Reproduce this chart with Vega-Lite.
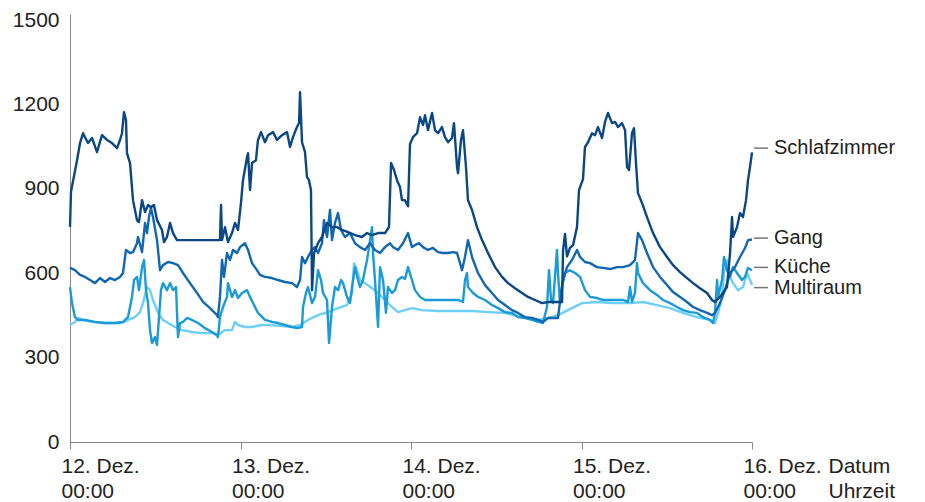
{
  "$schema": "https://vega.github.io/schema/vega-lite/v6.json",
  "width": 682,
  "height": 428,
  "autosize": {"type": "none"},
  "padding": {"left": 70, "top": 14, "right": 173, "bottom": 60},
  "background": "white",
  "config": {"view": {"stroke": null}, "font": "Liberation Sans"},
  "datasets": {
    "Multiraum": [
      {"h":0,"w":416},{"h":0.7,"w":427},{"h":1.13,"w":441},{"h":1.83,"w":434},{"h":3.1,"w":427},{"h":4.5,"w":423},{"h":5.91,"w":423},{"h":7.32,"w":423},{"h":8.16,"w":434},{"h":9.15,"w":444},{"h":9.85,"w":462},{"h":10.28,"w":494},{"h":10.84,"w":551},{"h":11.26,"w":540},{"h":11.68,"w":505},{"h":12.39,"w":459},{"h":13.09,"w":434},{"h":13.8,"w":423},{"h":14.78,"w":409},{"h":15.77,"w":398},{"h":17.17,"w":391},{"h":18.58,"w":387},{"h":19.99,"w":387},{"h":20.83,"w":380},{"h":21.82,"w":398},{"h":22.8,"w":398},{"h":23.23,"w":427},{"h":23.65,"w":416},{"h":24.63,"w":409},{"h":25.62,"w":409},{"h":27.03,"w":416},{"h":28.43,"w":416},{"h":29.84,"w":412},{"h":31.25,"w":409},{"h":32.38,"w":416},{"h":33.5,"w":434},{"h":34.91,"w":451},{"h":36.32,"w":462},{"h":37.73,"w":476},{"h":38.99,"w":487},{"h":39.7,"w":530},{"h":39.98,"w":636},{"h":40.4,"w":611},{"h":40.82,"w":576},{"h":41.53,"w":565},{"h":42.51,"w":547},{"h":43.36,"w":530},{"h":44.34,"w":505},{"h":45.33,"w":480},{"h":46.17,"w":462},{"h":47.16,"w":469},{"h":48.14,"w":476},{"h":49.55,"w":469},{"h":51.8,"w":466},{"h":54.19,"w":466},{"h":56.59,"w":466},{"h":58.84,"w":462},{"h":61.23,"w":459},{"h":63.63,"w":444},{"h":65.88,"w":434},{"h":67.29,"w":441},{"h":68.69,"w":451},{"h":70.66,"w":476},{"h":72.07,"w":494},{"h":74.18,"w":498},{"h":76.44,"w":494},{"h":78.83,"w":494},{"h":80.66,"w":498},{"h":82.63,"w":487},{"h":84.46,"w":476},{"h":86.29,"w":459},{"h":88.26,"w":444},{"h":90.09,"w":434},{"h":90.79,"w":423},{"h":91.22,"w":459},{"h":91.78,"w":516},{"h":92.06,"w":601},{"h":92.48,"w":647},{"h":92.91,"w":587},{"h":93.33,"w":565},{"h":94.03,"w":540},{"h":94.73,"w":551},{"h":95.3,"w":601},{"h":95.72,"w":576},{"h":96,"w":558}
    ],
    "Kueche": [
      {"h":0,"w":551},{"h":0.28,"w":494},{"h":0.7,"w":444},{"h":1.13,"w":434},{"h":2.11,"w":434},{"h":3.52,"w":427},{"h":4.93,"w":423},{"h":6.33,"w":423},{"h":7.46,"w":427},{"h":8.16,"w":444},{"h":8.73,"w":516},{"h":9.01,"w":576},{"h":9.43,"w":587},{"h":9.71,"w":540},{"h":10.14,"w":622},{"h":10.42,"w":647},{"h":10.7,"w":540},{"h":10.98,"w":494},{"h":11.26,"w":398},{"h":11.54,"w":352},{"h":11.96,"w":373},{"h":12.25,"w":345},{"h":12.53,"w":444},{"h":12.81,"w":540},{"h":13.09,"w":565},{"h":13.65,"w":540},{"h":14.08,"w":565},{"h":14.5,"w":540},{"h":14.92,"w":551},{"h":15.2,"w":373},{"h":15.48,"w":423},{"h":15.91,"w":427},{"h":16.47,"w":441},{"h":17.17,"w":434},{"h":18.02,"w":423},{"h":19,"w":405},{"h":19.99,"w":391},{"h":20.69,"w":380},{"h":20.83,"w":373},{"h":21.11,"w":444},{"h":21.54,"w":480},{"h":22.1,"w":516},{"h":22.24,"w":565},{"h":22.8,"w":516},{"h":23.23,"w":540},{"h":23.65,"w":512},{"h":24.21,"w":530},{"h":24.92,"w":540},{"h":25.34,"w":516},{"h":25.76,"w":494},{"h":26.46,"w":459},{"h":27.45,"w":434},{"h":28.43,"w":427},{"h":29.28,"w":423},{"h":30.26,"w":416},{"h":31.25,"w":409},{"h":31.95,"w":405},{"h":32.66,"w":409},{"h":32.8,"w":480},{"h":33.22,"w":530},{"h":33.5,"w":551},{"h":34.07,"w":494},{"h":34.49,"w":516},{"h":34.91,"w":611},{"h":35.33,"w":576},{"h":35.61,"w":530},{"h":36.18,"w":505},{"h":36.46,"w":352},{"h":36.88,"w":480},{"h":37.3,"w":551},{"h":37.73,"w":540},{"h":38.15,"w":576},{"h":38.43,"w":565},{"h":38.99,"w":516},{"h":39.41,"w":494},{"h":39.7,"w":551},{"h":40.12,"w":622},{"h":40.54,"w":576},{"h":40.82,"w":551},{"h":41.24,"w":576},{"h":41.81,"w":647},{"h":42.09,"w":693},{"h":42.51,"w":764},{"h":42.65,"w":672},{"h":42.93,"w":576},{"h":43.36,"w":409},{"h":43.64,"w":622},{"h":44.06,"w":576},{"h":44.48,"w":459},{"h":44.76,"w":551},{"h":45.33,"w":530},{"h":45.75,"w":540},{"h":46.17,"w":576},{"h":46.73,"w":587},{"h":47.16,"w":580},{"h":47.58,"w":622},{"h":48.14,"w":576},{"h":48.56,"w":540},{"h":49.27,"w":516},{"h":49.97,"w":505},{"h":50.96,"w":505},{"h":51.8,"w":505},{"h":52.79,"w":505},{"h":53.77,"w":505},{"h":54.62,"w":505},{"h":55.32,"w":498},{"h":55.6,"w":576},{"h":55.88,"w":601},{"h":56.02,"w":551},{"h":56.73,"w":530},{"h":57.43,"w":516},{"h":58.42,"w":505},{"h":59.4,"w":487},{"h":60.25,"w":476},{"h":61.23,"w":462},{"h":62.22,"w":459},{"h":63.06,"w":444},{"h":64.05,"w":441},{"h":65.03,"w":434},{"h":65.88,"w":427},{"h":66.58,"w":423},{"h":67.14,"w":480},{"h":67.43,"w":611},{"h":67.71,"w":505},{"h":67.99,"w":494},{"h":68.55,"w":683},{"h":68.69,"w":601},{"h":68.98,"w":494},{"h":69.26,"w":551},{"h":69.68,"w":601},{"h":70.38,"w":611},{"h":71.09,"w":601},{"h":71.79,"w":587},{"h":72.49,"w":540},{"h":73.2,"w":516},{"h":74.18,"w":512},{"h":75.03,"w":505},{"h":76.44,"w":505},{"h":77.84,"w":505},{"h":78.55,"w":498},{"h":78.83,"w":551},{"h":79.11,"w":498},{"h":79.53,"w":530},{"h":79.81,"w":636},{"h":79.95,"w":601},{"h":80.66,"w":565},{"h":81.64,"w":540},{"h":82.63,"w":523},{"h":83.47,"w":505},{"h":84.46,"w":494},{"h":85.45,"w":480},{"h":86.29,"w":469},{"h":87.27,"w":462},{"h":88.26,"w":459},{"h":89.1,"w":444},{"h":90.09,"w":434},{"h":90.51,"w":423},{"h":90.79,"w":459},{"h":91.08,"w":576},{"h":91.22,"w":516},{"h":91.78,"w":576},{"h":92.06,"w":658},{"h":92.48,"w":611},{"h":92.91,"w":587},{"h":93.33,"w":622},{"h":93.89,"w":601},{"h":94.59,"w":576},{"h":95.02,"w":587},{"h":95.44,"w":619},{"h":96,"w":611}
    ],
    "Gang": [
      {"h":0,"w":619},{"h":0.7,"w":611},{"h":1.41,"w":594},{"h":2.11,"w":587},{"h":2.82,"w":576},{"h":3.52,"w":565},{"h":4.22,"w":583},{"h":4.93,"w":569},{"h":5.63,"w":583},{"h":6.33,"w":576},{"h":7.04,"w":587},{"h":7.46,"w":601},{"h":7.88,"w":683},{"h":8.45,"w":672},{"h":8.87,"w":675},{"h":9.43,"w":707},{"h":9.57,"w":729},{"h":10.14,"w":675},{"h":10.56,"w":779},{"h":10.84,"w":743},{"h":11.12,"w":800},{"h":11.4,"w":832},{"h":11.68,"w":800},{"h":12.25,"w":718},{"h":12.67,"w":611},{"h":13.09,"w":629},{"h":13.8,"w":640},{"h":14.5,"w":636},{"h":15.2,"w":629},{"h":15.91,"w":601},{"h":16.89,"w":565},{"h":17.88,"w":530},{"h":18.72,"w":498},{"h":19.71,"w":476},{"h":20.69,"w":451},{"h":20.83,"w":444},{"h":21.11,"w":516},{"h":21.4,"w":647},{"h":21.68,"w":587},{"h":22.1,"w":672},{"h":22.52,"w":647},{"h":22.94,"w":683},{"h":23.51,"w":672},{"h":23.93,"w":693},{"h":24.63,"w":707},{"h":25.06,"w":683},{"h":25.62,"w":636},{"h":26.32,"w":611},{"h":26.75,"w":594},{"h":27.45,"w":587},{"h":28.43,"w":583},{"h":29.28,"w":576},{"h":30.26,"w":569},{"h":31.25,"w":565},{"h":31.95,"w":551},{"h":32.38,"w":576},{"h":32.66,"w":658},{"h":33.08,"w":636},{"h":33.5,"w":658},{"h":34.07,"w":683},{"h":34.49,"w":693},{"h":34.91,"w":672},{"h":35.47,"w":707},{"h":35.75,"w":789},{"h":36.18,"w":729},{"h":36.6,"w":825},{"h":36.88,"w":718},{"h":37.3,"w":779},{"h":37.73,"w":814},{"h":38.15,"w":754},{"h":38.71,"w":729},{"h":39.41,"w":743},{"h":40.12,"w":707},{"h":40.82,"w":693},{"h":41.53,"w":683},{"h":42.23,"w":707},{"h":42.93,"w":683},{"h":43.64,"w":672},{"h":44.34,"w":693},{"h":45.05,"w":707},{"h":45.47,"w":693},{"h":46.17,"w":683},{"h":46.87,"w":707},{"h":47.58,"w":743},{"h":48.14,"w":693},{"h":48.56,"w":700},{"h":49.13,"w":707},{"h":49.69,"w":693},{"h":50.39,"w":683},{"h":51.1,"w":690},{"h":51.8,"w":675},{"h":52.51,"w":672},{"h":53.21,"w":672},{"h":53.91,"w":675},{"h":54.48,"w":672},{"h":54.9,"w":636},{"h":55.18,"w":611},{"h":55.6,"w":658},{"h":56.02,"w":718},{"h":56.59,"w":658},{"h":57.43,"w":601},{"h":58.42,"w":558},{"h":59.4,"w":530},{"h":60.25,"w":505},{"h":61.23,"w":487},{"h":62.22,"w":469},{"h":63.06,"w":459},{"h":64.05,"w":444},{"h":65.03,"w":441},{"h":65.88,"w":434},{"h":66.58,"w":427},{"h":67.29,"w":441},{"h":68.69,"w":441},{"h":69.12,"w":530},{"h":69.4,"w":576},{"h":69.96,"w":622},{"h":70.66,"w":647},{"h":71.37,"w":683},{"h":71.79,"w":658},{"h":72.49,"w":640},{"h":73.2,"w":636},{"h":74.18,"w":622},{"h":75.03,"w":619},{"h":76.01,"w":615},{"h":77,"w":622},{"h":77.84,"w":622},{"h":78.83,"w":629},{"h":79.53,"w":647},{"h":79.95,"w":743},{"h":80.52,"w":718},{"h":81.22,"w":672},{"h":82.07,"w":622},{"h":83.05,"w":587},{"h":84.04,"w":558},{"h":84.88,"w":533},{"h":85.87,"w":516},{"h":86.85,"w":498},{"h":87.7,"w":480},{"h":88.68,"w":469},{"h":89.67,"w":459},{"h":90.37,"w":451},{"h":90.79,"w":459},{"h":91.5,"w":494},{"h":92.2,"w":540},{"h":92.91,"w":601},{"h":93.61,"w":622},{"h":94.31,"w":658},{"h":95.02,"w":690},{"h":95.44,"w":718},{"h":96,"w":720}
    ],
    "Schlafzimmer": [
      {"h":0,"w":765},{"h":0.14,"w":890},{"h":0.99,"w":1002},{"h":1.41,"w":1063},{"h":1.83,"w":1098},{"h":2.53,"w":1063},{"h":3.1,"w":1081},{"h":3.8,"w":1031},{"h":4.5,"w":1091},{"h":5.21,"w":1074},{"h":5.91,"w":1063},{"h":6.62,"w":1045},{"h":7.04,"w":1074},{"h":7.32,"w":1098},{"h":7.6,"w":1173},{"h":7.88,"w":1145},{"h":8.02,"w":1027},{"h":8.45,"w":992},{"h":8.87,"w":860},{"h":9.43,"w":789},{"h":9.71,"w":782},{"h":10.14,"w":860},{"h":10.56,"w":818},{"h":10.98,"w":843},{"h":11.4,"w":835},{"h":11.82,"w":843},{"h":12.25,"w":789},{"h":12.95,"w":754},{"h":13.23,"w":711},{"h":13.65,"w":729},{"h":14.08,"w":779},{"h":14.5,"w":743},{"h":15.06,"w":718},{"h":21.11,"w":718},{"h":21.26,"w":843},{"h":21.4,"w":718},{"h":21.82,"w":764},{"h":22.24,"w":711},{"h":22.8,"w":743},{"h":23.23,"w":779},{"h":23.65,"w":754},{"h":24.07,"w":850},{"h":24.35,"w":931},{"h":24.92,"w":1013},{"h":25.06,"w":1027},{"h":25.34,"w":896},{"h":25.62,"w":992},{"h":26.18,"w":1002},{"h":26.46,"w":1074},{"h":26.89,"w":1102},{"h":27.45,"w":1066},{"h":27.87,"w":1091},{"h":28.58,"w":1102},{"h":29.14,"w":1074},{"h":29.84,"w":1091},{"h":30.55,"w":1102},{"h":30.97,"w":1049},{"h":31.39,"w":1084},{"h":31.95,"w":1120},{"h":32.24,"w":1134},{"h":32.38,"w":1244},{"h":32.66,"w":1066},{"h":33.08,"w":1031},{"h":33.36,"w":942},{"h":33.64,"w":931},{"h":33.92,"w":896},{"h":34.07,"w":540},{"h":34.35,"w":672},{"h":34.91,"w":707},{"h":35.47,"w":729},{"h":36.18,"w":779},{"h":36.88,"w":764},{"h":37.58,"w":764},{"h":38.29,"w":754},{"h":39.13,"w":746},{"h":40.12,"w":736},{"h":41.1,"w":729},{"h":41.81,"w":743},{"h":42.51,"w":736},{"h":43.36,"w":743},{"h":44.34,"w":743},{"h":44.9,"w":764},{"h":45.19,"w":992},{"h":45.61,"w":967},{"h":46.03,"w":931},{"h":46.45,"w":907},{"h":46.73,"w":860},{"h":47.16,"w":860},{"h":47.58,"w":838},{"h":47.86,"w":1060},{"h":48.28,"w":1084},{"h":48.85,"w":1098},{"h":49.27,"w":1155},{"h":49.69,"w":1127},{"h":49.97,"w":1162},{"h":50.39,"w":1109},{"h":50.96,"w":1170},{"h":51.38,"w":1109},{"h":51.8,"w":1098},{"h":52.36,"w":1120},{"h":52.79,"w":1084},{"h":53.21,"w":1066},{"h":53.77,"w":1081},{"h":54.05,"w":1134},{"h":54.48,"w":978},{"h":54.62,"w":956},{"h":55.04,"w":1074},{"h":55.32,"w":1109},{"h":55.74,"w":978},{"h":56.02,"w":860},{"h":56.59,"w":825},{"h":57.29,"w":764},{"h":58,"w":718},{"h":58.84,"w":672},{"h":59.83,"w":622},{"h":60.81,"w":587},{"h":61.66,"w":565},{"h":62.64,"w":547},{"h":63.63,"w":530},{"h":64.47,"w":516},{"h":65.46,"w":505},{"h":66.44,"w":494},{"h":67.29,"w":498},{"h":68.98,"w":498},{"h":69.26,"w":498},{"h":69.4,"w":680},{"h":69.68,"w":740},{"h":69.96,"w":660},{"h":70.38,"w":690},{"h":70.81,"w":700},{"h":71.37,"w":765},{"h":71.65,"w":896},{"h":72.21,"w":935},{"h":72.49,"w":1049},{"h":72.92,"w":1066},{"h":73.48,"w":1098},{"h":73.9,"w":1091},{"h":74.32,"w":1120},{"h":74.89,"w":1081},{"h":75.31,"w":1138},{"h":75.73,"w":1170},{"h":76.3,"w":1134},{"h":76.72,"w":1138},{"h":77.14,"w":1120},{"h":77.7,"w":1134},{"h":78.13,"w":1109},{"h":78.41,"w":978},{"h":78.69,"w":967},{"h":79.11,"w":1098},{"h":79.39,"w":1116},{"h":79.67,"w":992},{"h":79.95,"w":885},{"h":80.52,"w":850},{"h":81.22,"w":800},{"h":82.07,"w":743},{"h":83.05,"w":693},{"h":84.04,"w":658},{"h":84.88,"w":629},{"h":85.87,"w":604},{"h":86.85,"w":583},{"h":87.7,"w":565},{"h":88.68,"w":547},{"h":89.67,"w":530},{"h":90.37,"w":505},{"h":90.79,"w":498},{"h":91.5,"w":516},{"h":92.48,"w":551},{"h":92.91,"w":672},{"h":93.19,"w":800},{"h":93.33,"w":729},{"h":93.89,"w":764},{"h":94.31,"w":814},{"h":94.73,"w":800},{"h":95.16,"w":860},{"h":95.44,"w":931},{"h":95.72,"w":978},{"h":96,"w":1030}
    ],
    "Beschriftung": [
      {"raum":"Schlafzimmer","h":96,"w":1045},
      {"raum":"Gang","h":96,"w":725},
      {"raum":"Küche","h":96,"w":621},
      {"raum":"Multiraum","h":96,"w":549}
    ]
  },
  "encoding": {
    "x": {
      "field": "h", "type": "quantitative",
      "scale": {"domain": [0, 96], "nice": false, "zero": false},
      "axis": {
        "values": [0, 24, 48, 72, 96],
        "labelExpr": "[(12 + datum.value/24) + '. Dez.', '00:00']",
        "labelAlign": "left", "labelOffset": -9, "labelFlush": false, "labelOverlap": false, "labelBound": false,
        "labelFontSize": 21, "labelColor": "#222222", "labelLineHeight": 25, "labelPadding": 6,
        "tickSize": 7, "tickColor": "#888888", "domainColor": "#888888", "grid": false,
        "title": ["Datum", "Uhrzeit"], "titleX": 758, "titleY": 13, "titleAlign": "left", "titleBaseline": "top",
        "titleFontWeight": "normal", "titleFontSize": 21, "titleColor": "#222222", "titleLineHeight": 25
      }
    },
    "y": {
      "field": "w", "type": "quantitative",
      "scale": {"domain": [0, 1522], "nice": false},
      "axis": {
        "values": [0, 300, 600, 900, 1200, 1500], "format": "d",
        "tickSize": 0, "labelPadding": 11, "labelFontSize": 21, "labelColor": "#222222",
        "domainColor": "#888888", "grid": false, "title": null, "labelOverlap": false, "labelFlush": false
      }
    }
  },
  "layer": [
    {"data": {"name": "Multiraum"}, "mark": {"type": "line", "strokeWidth": 2.4, "color": "#6dcff6", "strokeJoin": "round"}},
    {"data": {"name": "Kueche"}, "mark": {"type": "line", "strokeWidth": 2.4, "color": "#1b9ad8", "strokeJoin": "round"}},
    {"data": {"name": "Gang"}, "mark": {"type": "line", "strokeWidth": 2.4, "color": "#1267b1", "strokeJoin": "round"}},
    {"data": {"name": "Schlafzimmer"}, "mark": {"type": "line", "strokeWidth": 2.4, "color": "#0b4784", "strokeJoin": "round"}},
    {"data": {"name": "Beschriftung"}, "mark": {"type": "rule", "xOffset": 2, "x2Offset": 16, "color": "#777777", "strokeWidth": 1.5, "clip": false},
     "encoding": {"x2": {"field": "h"}}},
    {"data": {"name": "Beschriftung"}, "mark": {"type": "text", "align": "left", "baseline": "middle", "dx": 22, "fontSize": 20, "color": "#222222", "clip": false},
     "encoding": {"text": {"field": "raum"}}}
  ]
}
